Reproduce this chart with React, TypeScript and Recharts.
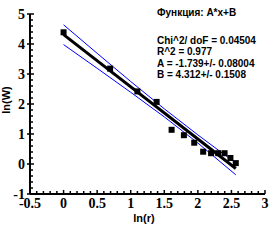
import React from 'react';
import { ScatterChart, Scatter, XAxis, YAxis, Customized } from 'recharts';

const lnR = [0, 0.693, 1.099, 1.386, 1.609, 1.792, 1.946, 2.079, 2.197, 2.303, 2.398, 2.485, 2.565];
const lnW = [4.39, 3.18, 2.42, 2.07, 1.14, 0.96, 0.71, 0.41, 0.36, 0.36, 0.36, 0.2, 0.03];

const fitX = [0, 2.565];
const fitY = [4.312, -0.149];

const bandX = [0, 0.5, 1.0, 1.5, 2.0, 2.565];
const bandUpper = [4.64, 3.69, 2.75, 1.84, 0.97, 0.03];
const bandLower = [3.98, 3.19, 2.39, 1.57, 0.70, -0.36];

const xMajorTicks = [-0.5, 0, 0.5, 1, 1.5, 2, 2.5, 3];
const yMajorTicks = [-1, 0, 1, 2, 3, 4, 5];

const annotationTitle = 'Функция: A*x+B';
const annotationLines = [
  'Chi^2/ doF = 0.04504',
  'R^2 = 0.977',
  'A = -1.739+/- 0.08004',
  'B = 4.312+/- 0.1508',
];
const xTitle = 'ln(r)';
const yTitle = 'ln(W)';

const xMinorTicks: number[] = [];
for (let i = -5; i <= 30; i++) xMinorTicks.push(Math.round(i) / 10);
const yMinorTicks: number[] = [];
for (let i = -5; i <= 25; i++) yMinorTicks.push(Math.round(i * 2) / 10);

const points = lnR.map((x, i) => ({ x, y: lnW[i] }));
const fit = fitX.map((x, i) => ({ x, y: fitY[i] }));
const upper = bandX.map((x, i) => ({ x, y: bandUpper[i] }));
const lower = bandX.map((x, i) => ({ x, y: bandLower[i] }));

const isMajor = (v: number, majors: number[]) => majors.some((m) => Math.abs(m - v) < 1e-6);

const SERIF = '"Liberation Serif", "Times New Roman", serif';
const SANS = '"Liberation Sans", Arial, sans-serif';

const XTick = (props: any) => {
  const { x, y, payload } = props;
  const v = payload.value;
  const major = isMajor(v, xMajorTicks);
  return (
    <g>
      <line x1={x} x2={x} y1={y} y2={y - (major ? 4 : 3)} stroke="#000" strokeWidth={1.5} />
      {major && (
        <text x={x} y={y + 13.5} textAnchor="middle" fill="#000" fontFamily={SERIF} fontWeight="bold" fontSize={14}>
          {String(v)}
        </text>
      )}
    </g>
  );
};

const YTick = (props: any) => {
  const { x, y, payload } = props;
  const v = payload.value;
  const major = isMajor(v, yMajorTicks);
  return (
    <g>
      <line x1={x} x2={x + (major ? 4 : 3)} y1={y} y2={y} stroke="#000" strokeWidth={1.5} />
      {major && <line x1={x} x2={x - 3} y1={y} y2={y} stroke="#000" strokeWidth={1.5} />}
      {major && (
        <text x={x - 5} y={y + 4.5} textAnchor="end" fill="#000" fontFamily={SERIF} fontWeight="bold" fontSize={14}>
          {String(v)}
        </text>
      )}
    </g>
  );
};

const Square = (props: any) => {
  const { cx, cy } = props;
  return <rect x={cx - 3} y={cy - 3} width={6} height={6} fill="#000" />;
};
const NoShape = () => <g />;

const Texts = () => (
  <g>
    <text x={157} y={16} fill="#000" fontFamily={SANS} fontWeight="bold" fontSize={10}>{annotationTitle}</text>
    {annotationLines.map((t, i) => (
      <text key={i} x={157} y={43.5 + i * 11.5} fill="#000" fontFamily={SANS} fontWeight="bold" fontSize={10}>{t}</text>
    ))}
    <text x={144} y={222} textAnchor="middle" fill="#000" fontFamily={SANS} fontWeight="bold" fontSize={11}>{xTitle}</text>
    <text x={0} y={0} transform="translate(10,100) rotate(-90)" textAnchor="middle" fill="#000" fontFamily={SANS} fontWeight="bold" fontSize={11}>{yTitle}</text>
  </g>
);

export default function App() {
  return (
    <div style={{ position: 'absolute', left: 0, top: 0, width: 270, height: 240, background: '#fff' }}>
      <ScatterChart width={270} height={240} margin={{ top: 14, right: 5, left: 0, bottom: 0 }}>
        <XAxis
          type="number"
          dataKey="x"
          domain={[-0.5, 3]}
          ticks={xMinorTicks}
          interval={0}
          tickLine={false}
          tickSize={0}
          tickMargin={0}
          tick={<XTick />}
          axisLine={{ stroke: '#000', strokeWidth: 2 }}
          height={46}
          allowDataOverflow
        />
        <YAxis
          type="number"
          dataKey="y"
          domain={[-1, 5]}
          ticks={yMinorTicks}
          interval={0}
          tickLine={false}
          tickSize={0}
          tickMargin={0}
          tick={<YTick />}
          axisLine={{ stroke: '#000', strokeWidth: 2 }}
          width={30}
          allowDataOverflow
        />
        <Scatter data={upper} line={{ stroke: '#0000ff', strokeWidth: 1 }} shape={<NoShape />} fill="none" isAnimationActive={false} />
        <Scatter data={lower} line={{ stroke: '#0000ff', strokeWidth: 1 }} shape={<NoShape />} fill="none" isAnimationActive={false} />
        <Scatter data={fit} line={{ stroke: '#000', strokeWidth: 3 }} shape={<NoShape />} fill="none" isAnimationActive={false} />
        <Scatter data={points} shape={<Square />} fill="#000" isAnimationActive={false} />
        <Customized component={Texts} />
      </ScatterChart>
    </div>
  );
}
